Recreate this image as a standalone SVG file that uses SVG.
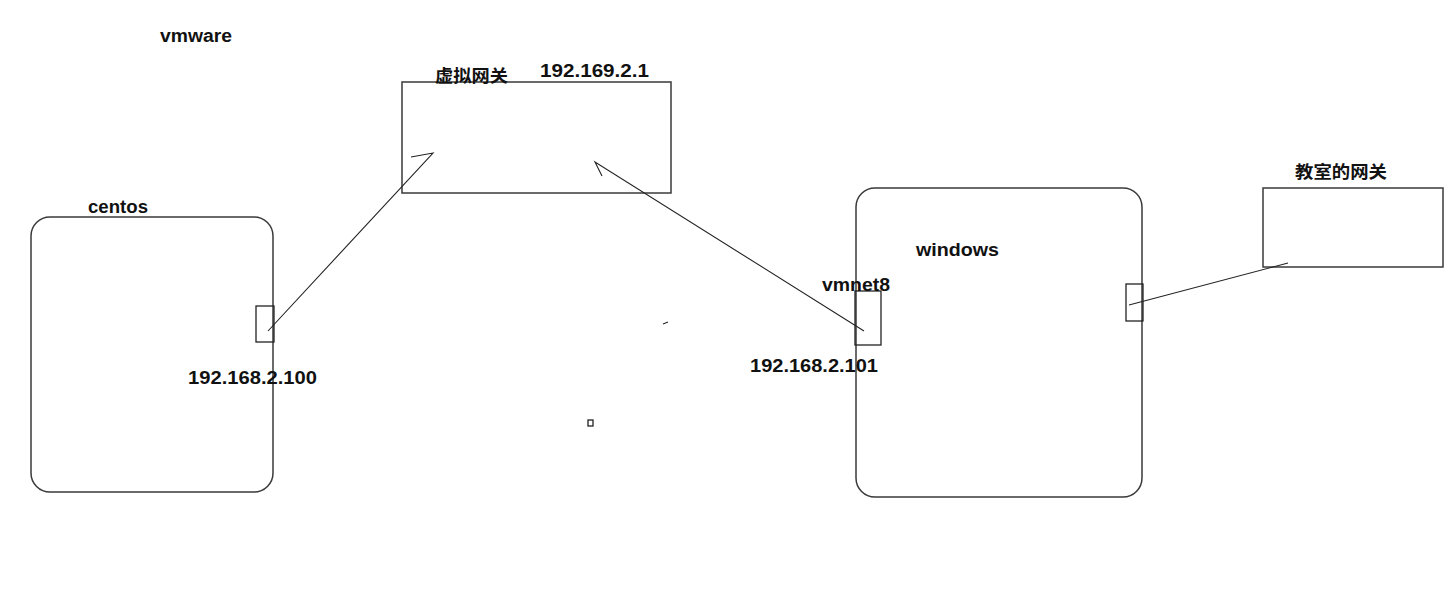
<svg xmlns="http://www.w3.org/2000/svg" width="1454" height="600" viewBox="0 0 1454 600">
<style>
.box{fill:none;stroke:#3a3a3a;stroke-width:1.5}
.port{fill:none;stroke:#222;stroke-width:1.3}
.ln{fill:none;stroke:#222;stroke-width:1.1}
.t{font-family:"Liberation Sans",Arial,sans-serif;font-weight:bold;font-size:18px;fill:#111}
.c{font-family:"Noto Sans CJK SC","Liberation Sans",sans-serif;font-weight:bold;font-size:17px;fill:#111}
</style>
<rect width="1454" height="600" fill="#fff"/>
<text class="t" x="160" y="42" textLength="72" lengthAdjust="spacingAndGlyphs">vmware</text>
<g id="centos">
<rect class="box" x="31" y="217" width="242" height="275" rx="19"/>
<text class="t" x="88" y="213" textLength="60" lengthAdjust="spacingAndGlyphs">centos</text>
<rect class="port" x="256" y="306" width="18" height="36"/>
<text class="t" x="188" y="384" textLength="129" lengthAdjust="spacingAndGlyphs">192.168.2.100</text>
</g>
<g id="gateway">
<rect class="box" x="402" y="82" width="269" height="111"/>
<text class="c" x="435" y="82" textLength="73" lengthAdjust="spacingAndGlyphs">虚拟网关</text>
<text class="t" x="540" y="77" textLength="109" lengthAdjust="spacingAndGlyphs">192.169.2.1</text>
</g>
<g id="windows">
<rect class="box" x="856" y="188" width="286" height="309" rx="19"/>
<text class="t" x="916" y="256" textLength="83" lengthAdjust="spacingAndGlyphs">windows</text>
<rect class="port" x="855" y="291" width="26" height="54"/>
<text class="t" x="822" y="291" textLength="68" lengthAdjust="spacingAndGlyphs">vmnet8</text>
<text class="t" x="750" y="372" textLength="128" lengthAdjust="spacingAndGlyphs">192.168.2.101</text>
<rect class="port" x="1126" y="284" width="17" height="37"/>
</g>
<g id="classroom-gateway">
<rect class="box" x="1263" y="188" width="180" height="79"/>
<text class="c" x="1295" y="178" textLength="92" lengthAdjust="spacingAndGlyphs">教室的网关</text>
</g>
<g id="connectors">
<polyline class="ln" points="268,331 433,153 411,157"/>
<polyline class="ln" points="864,331 595,162 602,176"/>
<line class="ln" x1="1129" y1="305" x2="1288" y2="263"/>
<line class="ln" x1="663" y1="324" x2="668" y2="322"/>
<rect class="port" x="588" y="420" width="5" height="6" stroke-width="1"/>
</g>
</svg>
